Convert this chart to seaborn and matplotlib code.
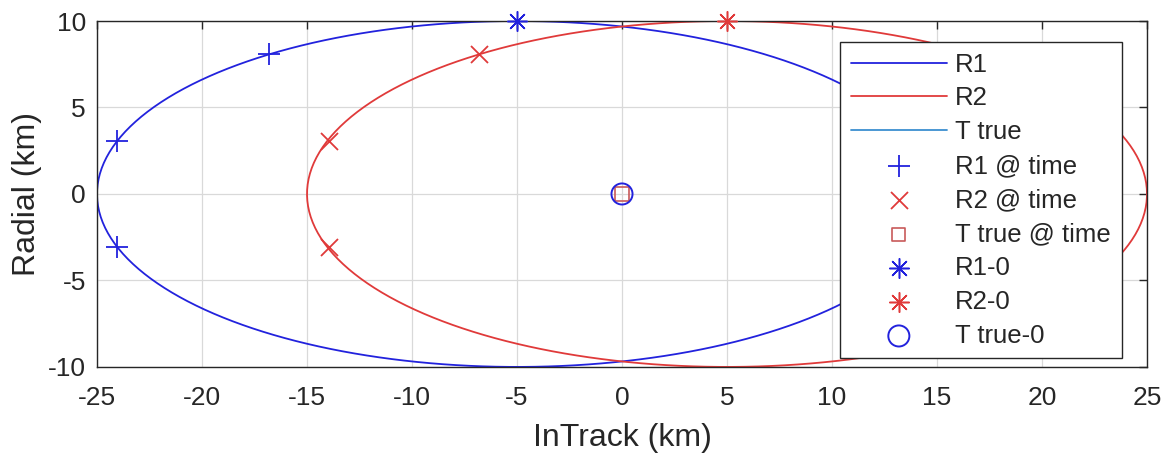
import numpy as np
import pandas as pd
import matplotlib
matplotlib.use('Agg')
import matplotlib.pyplot as plt
import seaborn as sns

# --- dados ---
# elipses relativas (centro e semi-eixos, km)
r1_center = (-5.0, 0.0)
r1_axes = (20.0, 10.0)
r2_center = (5.0, 0.0)
r2_axes = (20.0, 10.0)

# posicoes "@ time"
r1_time_x = [-16.8, -24.05, -24.05]
r1_time_y = [8.1, 3.06, -3.06]
r2_time_x = [-6.8, -13.95, -13.95]
r2_time_y = [8.1, 3.06, -3.06]
t_time_x = [0.0]
t_time_y = [0.0]

# posicoes iniciais
r1_0_x, r1_0_y = [-5.0], [10.0]
r2_0_x, r2_0_y = [5.0], [10.0]
t0_x, t0_y = [0.0], [0.0]
t_true_x, t_true_y = [0.0], [0.0]

x_ticks = [-25, -20, -15, -10, -5, 0, 5, 10, 15, 20, 25]
y_ticks = [-10, -5, 0, 5, 10]

BLUE = '#2222dd'
RED = '#e03a3a'
LIGHTBLUE = '#3b8fd0'
SQ = '#c85a5a'
TXT = '#262626'


def ellipse_df(center, axes, n=400):
    th = np.linspace(0, 2 * np.pi, n)
    return pd.DataFrame({'x': center[0] + axes[0] * np.cos(th),
                         'y': center[1] + axes[1] * np.sin(th)})


sns.set_style('white')
plt.rcParams['font.family'] = ['Liberation Sans', 'DejaVu Sans']
plt.rcParams['axes.unicode_minus'] = False

fig, ax = plt.subplots(figsize=(11.66, 4.53), dpi=100)
fig.subplots_adjust(left=0.0832, right=0.9837, bottom=0.19, top=0.9536)

sns.lineplot(data=ellipse_df(r1_center, r1_axes), x='x', y='y', sort=False,
             estimator=None, color=BLUE, lw=1.3, ax=ax, label='R1')
sns.lineplot(data=ellipse_df(r2_center, r2_axes), x='x', y='y', sort=False,
             estimator=None, color=RED, lw=1.3, ax=ax, label='R2')
ax.plot(t_true_x, t_true_y, color=LIGHTBLUE, lw=1.3, label='T true')

sns.scatterplot(x=r1_time_x, y=r1_time_y, marker='+', s=260, color=BLUE,
                linewidth=1.3, ax=ax, label='R1 @ time', zorder=4, clip_on=False)
sns.scatterplot(x=r2_time_x, y=r2_time_y, marker='x', s=150, color=RED,
                linewidth=1.3, ax=ax, label='R2 @ time', zorder=4, clip_on=False)
sns.scatterplot(x=t_time_x, y=t_time_y, marker='s', s=90, facecolor='none',
                edgecolor=SQ, linewidth=1.2, ax=ax, label='T true @ time', zorder=4)
sns.scatterplot(x=r1_0_x, y=r1_0_y, marker=(8, 2, 0), s=200, color=BLUE,
                linewidth=1.1, ax=ax, label='R1-0', zorder=5, clip_on=False)
sns.scatterplot(x=r2_0_x, y=r2_0_y, marker=(8, 2, 0), s=200, color=RED,
                linewidth=1.1, ax=ax, label='R2-0', zorder=5, clip_on=False)
sns.scatterplot(x=t0_x, y=t0_y, marker='o', s=230, facecolor='none',
                edgecolor=BLUE, linewidth=1.4, ax=ax, label='T true-0', zorder=5)

ax.set_xlim(-25, 25)
ax.set_ylim(-10, 10)
ax.set_xticks(x_ticks)
ax.set_yticks(y_ticks)
ax.grid(True, color='#d9d9d9', lw=0.9)
ax.tick_params(direction='in', length=6, width=1, top=True, right=True,
               labelsize=19, colors=TXT, pad=8)
ax.tick_params(axis='x', pad=14)
for sp in ax.spines.values():
    sp.set_color(TXT)
    sp.set_linewidth(1.0)

ax.set_xlabel('InTrack (km)', fontsize=23, color=TXT, labelpad=9)
ax.set_ylabel('Radial (km)', fontsize=23, color=TXT, labelpad=4)

leg = ax.legend(loc='upper right', bbox_to_anchor=(0.976, 0.94), fontsize=18.5,
                frameon=True, fancybox=False, edgecolor=TXT, framealpha=1,
                handlelength=3.75, handletextpad=0.32, labelspacing=0.385,
                borderpad=0.42, borderaxespad=0)
leg.get_frame().set_linewidth(1.0)
for t in leg.get_texts():
    t.set_color(TXT)

plt.savefig('out.png', dpi=100)
